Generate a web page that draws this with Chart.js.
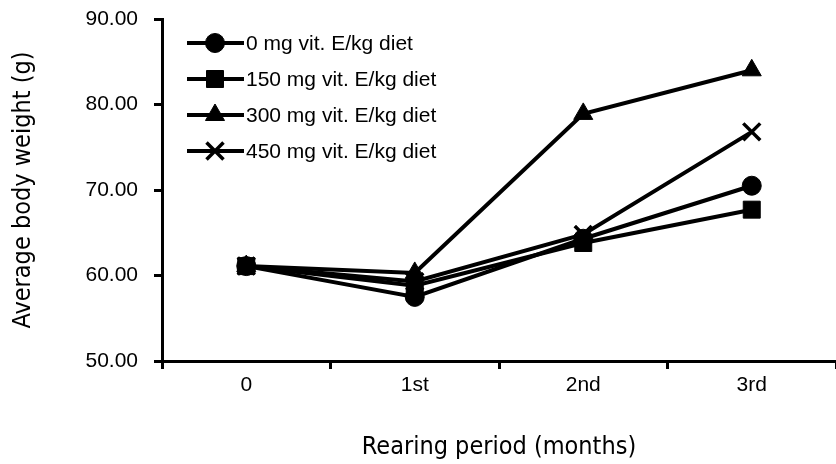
<!DOCTYPE html>
<html>
<head>
<meta charset="utf-8">
<script src="https://cdn.jsdelivr.net/npm/chart.js@4/dist/chart.umd.min.js"></script>
<style>
  html, body { margin: 0; padding: 0; background: #fff; overflow: hidden; }
  canvas { display: block; }
</style>
</head>
<body>
<canvas id="weightChart" width="836" height="464"></canvas>
<script>
// rearing period and average body weight (g) per vitamin E level
const periods = ['0', '1st', '2nd', '3rd'];
const vitE0 = [61.1, 57.5, 64.3, 70.5];
const vitE150 = [61.1, 58.8, 63.8, 67.7];
const vitE300 = [61.1, 60.3, 78.9, 84.0];
const vitE450 = [61.1, 59.3, 64.8, 76.8];
const seriesNames = ['0 mg vit. E/kg diet', '150 mg vit. E/kg diet', '300 mg vit. E/kg diet', '450 mg vit. E/kg diet'];
const yTicks = [50, 60, 70, 80, 90];

const tickFont = { family: "'Liberation Sans', Arial, sans-serif", size: 21 };
const titleFont = { family: "'Liberation Sans Narrow', 'DejaVu Sans Condensed', sans-serif", size: 25 };

function series(label, data, style, radius, order) {
  return {
    label: label,
    data: data,
    borderColor: '#000',
    backgroundColor: '#000',
    borderWidth: 4,
    pointStyle: style,
    pointRadius: radius,
    pointHoverRadius: radius,
    pointBorderWidth: style === 'crossRot' ? 3.5 : 1,
    tension: 0,
    order: order
  };
}

// legend drawn as line + marker, like the original
const lineLegend = {
  id: 'lineLegend',
  afterDraw(chart) {
    const ctx = chart.ctx;
    ctx.save();
    chart.data.datasets.forEach((ds, i) => {
      const y = 43 + i * 36;
      ctx.strokeStyle = '#000';
      ctx.fillStyle = '#000';
      ctx.lineWidth = 4;
      ctx.beginPath();
      ctx.moveTo(187, y);
      ctx.lineTo(244, y);
      ctx.stroke();
      ctx.lineWidth = ds.pointBorderWidth;
      Chart.helpers.drawPoint(ctx, {
        pointStyle: ds.pointStyle,
        radius: ds.pointRadius,
        rotation: 0,
        borderWidth: ds.pointBorderWidth
      }, 215, y);
      ctx.font = "21px 'Liberation Sans', Arial, sans-serif";
      ctx.textBaseline = 'middle';
      ctx.textAlign = 'left';
      ctx.fillStyle = '#000';
      ctx.fillText(ds.label, 246, y + 1);
    });
    ctx.restore();
  }
};

new Chart(document.getElementById('weightChart'), {
  type: 'line',
  data: {
    labels: periods,
    datasets: [
      series(seriesNames[0], vitE0, 'circle', 9.5, 1),
      series(seriesNames[1], vitE150, 'rect', 12, 0),
      series(seriesNames[2], vitE300, 'triangle', 11, 2),
      series(seriesNames[3], vitE450, 'crossRot', 12, 3)
    ]
  },
  options: {
    responsive: false,
    animation: false,
    layout: { autoPadding: false, padding: { top: 19, right: 0, left: 0, bottom: 0 } },
    plugins: {
      legend: { display: false },
      tooltip: { enabled: false }
    },
    scales: {
      x: {
        offset: true,
        grid: { drawOnChartArea: false, offset: true, color: '#000', tickLength: 8, lineWidth: 3 },
        border: { color: '#000', width: 3 },
        ticks: { color: '#000', font: tickFont, padding: 4 },
        title: { display: true, text: 'Rearing period (months)', color: '#000', font: titleFont, padding: { top: 0, bottom: 2 } },
        afterFit(scale) {
          scale.height = 103;
          scale.paddingLeft = 0;
          scale.paddingRight = 0;
        }
      },
      y: {
        min: 50,
        max: 90,
        grid: { drawOnChartArea: false, color: '#000', tickLength: 8, lineWidth: 3 },
        border: { color: '#000', width: 3 },
        afterBuildTicks(scale) { scale.ticks = yTicks.map(v => ({ value: v })); },
        ticks: { color: '#000', font: tickFont, padding: 16, callback: v => Number(v).toFixed(2) },
        title: { display: true, text: 'Average body weight (g)', color: '#000', font: titleFont, padding: { top: 8, bottom: 0 } },
        afterFit(scale) {
          scale.width = 162;
          scale.paddingTop = 0;
          scale.paddingBottom = 0;
        }
      }
    }
  },
  plugins: [lineLegend]
});
</script>
</body>
</html>
